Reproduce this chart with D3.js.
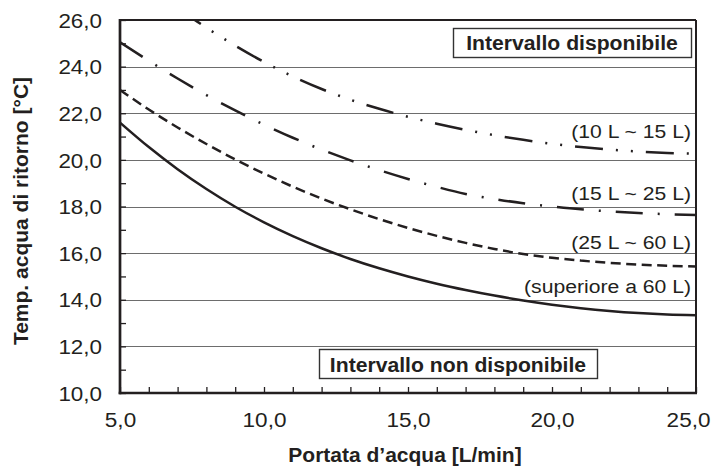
<!DOCTYPE html>
<html>
<head>
<meta charset="utf-8">
<script src="https://cdn.jsdelivr.net/npm/d3@7/dist/d3.min.js"></script>
<style>
  html, body { margin: 0; padding: 0; background: #fff; }
  svg { display: block; font-family: "Liberation Sans", Arial, Helvetica, sans-serif; }
</style>
</head>
<body>
<svg id="chart" width="711" height="467"></svg>
<script>
// ---- data ----
const flowX = [5, 6, 7, 8, 9, 10, 11, 12, 13, 14, 15, 16, 17, 18, 19, 20, 21, 22, 23, 24, 25];
const tempOver60 = [21.6, 20.55, 19.6, 18.75, 17.99, 17.32, 16.73, 16.21, 15.75, 15.35, 15.0, 14.69, 14.42, 14.18, 13.97, 13.79, 13.64, 13.52, 13.43, 13.37, 13.34];
const temp25to60 = [23.0, 22.16, 21.39, 20.68, 20.02, 19.41, 18.85, 18.34, 17.88, 17.46, 17.08, 16.74, 16.44, 16.18, 15.96, 15.8, 15.68, 15.58, 15.51, 15.46, 15.43];
const temp15to25 = [25.05, 24.25, 23.49, 22.78, 22.12, 21.51, 20.95, 20.44, 19.98, 19.56, 19.18, 18.84, 18.54, 18.32, 18.14, 18.0, 17.88, 17.79, 17.72, 17.67, 17.64];
const flowX10to15 = [7, 8, 9, 10, 11, 12, 13, 14, 15, 16, 17, 18, 19, 20, 21, 22, 23, 24, 25];
const temp10to15 = [26.5, 25.67, 24.9, 24.2, 23.58, 23.04, 22.58, 22.19, 21.85, 21.55, 21.29, 21.06, 20.86, 20.69, 20.55, 20.44, 20.36, 20.3, 20.26];
const seriesNames = ["(10 L ~ 15 L)", "(15 L ~ 25 L)", "(25 L ~ 60 L)", "(superiore a 60 L)"];
const xTickValues = [5, 10, 15, 20, 25];
const xTickLabels = ["5,0", "10,0", "15,0", "20,0", "25,0"];
const yTickValues = [10, 12, 14, 16, 18, 20, 22, 24, 26];
const yTickLabels = ["10,0", "12,0", "14,0", "16,0", "18,0", "20,0", "22,0", "24,0", "26,0"];
const boxTop = "Intervallo disponibile";
const boxBottom = "Intervallo non disponibile";
const xTitle = "Portata d\u2019acqua [L/min]";
const yTitle = "Temp. acqua di ritorno [\u00B0C]";

// ---- layout ----
const L = 120, R = 696, T = 20, B = 393;
const svg = d3.select("#chart");
const x = d3.scaleLinear().domain([5, 25]).range([L, R]);
const y = d3.scaleLinear().domain([10, 26]).range([B, T]);
const ink = "#231f20";

function stretch(sel, k) {
  sel.each(function () {
    const w = this.getComputedTextLength();
    if (w > 0) d3.select(this).attr("textLength", w * k).attr("lengthAdjust", "spacingAndGlyphs");
  });
}

// gridlines
svg.append("g").selectAll("line")
  .data(yTickValues.filter(v => v > 10 && v < 26))
  .join("line")
  .attr("x1", L).attr("x2", R)
  .attr("y1", d => Math.round(y(d)) + 0.5).attr("y2", d => Math.round(y(d)) + 0.5)
  .attr("stroke", "#6d6d6d").attr("stroke-width", 1.2);

// curves
svg.append("clipPath").attr("id", "plotclip")
  .append("rect").attr("x", L).attr("y", T).attr("width", R - L).attr("height", B - T);
const line = d3.line().x(d => x(d[0])).y(d => y(d[1])).curve(d3.curveMonotoneX);
const curves = [
  { pts: d3.zip(flowX10to15, temp10to15), dash: "28,13,2,13,2,13" },
  { pts: d3.zip(flowX, temp15to25), dash: "27,15,2,15" },
  { pts: d3.zip(flowX, temp25to60), dash: "10,5.5" },
  { pts: d3.zip(flowX, tempOver60), dash: null }
];
const cg = svg.append("g").attr("clip-path", "url(#plotclip)");
curves.forEach(c => {
  cg.append("path").attr("d", line(c.pts))
    .attr("fill", "none").attr("stroke", ink).attr("stroke-width", 2.5)
    .attr("stroke-dasharray", c.dash);
});

// axes ticks
const xAxis = d3.axisBottom(x).tickValues(d3.range(5, 26, 1)).tickSize(-6)
  .tickFormat(d => { const i = xTickValues.indexOf(d); return i >= 0 ? xTickLabels[i] : ""; });
const gx = svg.append("g").attr("transform", `translate(0,${B})`).call(xAxis);
gx.select(".domain").remove();
gx.selectAll(".tick line").attr("stroke", ink).attr("stroke-width", 1.3);
gx.selectAll(".tick text").attr("y", 33.7).attr("dy", 0)
  .attr("font-size", 20.5).attr("fill", ink).attr("font-family", "Liberation Sans, Arial, sans-serif")
  .call(stretch, 1.1);
// last label sits against the right edge of the picture
gx.selectAll(".tick text").filter(d => d === 25).attr("text-anchor", "end").attr("x", 14);

const yAxis = d3.axisLeft(y).tickValues(d3.range(10, 27, 1)).tickSize(-6).tickPadding(18)
  .tickFormat(d => { const i = yTickValues.indexOf(d); return i >= 0 ? yTickLabels[i] : ""; });
const gy = svg.append("g").attr("transform", `translate(${L},0)`).call(yAxis);
gy.select(".domain").remove();
gy.selectAll(".tick line").attr("stroke", ink).attr("stroke-width", 1.3);
gy.selectAll(".tick text").attr("dy", "0.36em")
  .attr("font-size", 20).attr("fill", ink).attr("font-family", "Liberation Sans, Arial, sans-serif")
  .call(stretch, 1.12);

// frame
svg.append("line").attr("x1", L).attr("x2", R).attr("y1", T).attr("y2", T).attr("stroke", ink).attr("stroke-width", 2);
svg.append("line").attr("x1", R).attr("x2", R).attr("y1", T).attr("y2", B).attr("stroke", ink).attr("stroke-width", 2);
svg.append("line").attr("x1", L).attr("x2", L).attr("y1", T - 1).attr("y2", B + 1.3).attr("stroke", ink).attr("stroke-width", 2.7);
svg.append("line").attr("x1", L - 1.3).attr("x2", R + 1).attr("y1", B).attr("y2", B).attr("stroke", ink).attr("stroke-width", 2.7);

// curve labels
const labelPos = [137.5, 199.5, 248.5, 292.7];
svg.append("g").selectAll("text").data(seriesNames).join("text")
  .attr("x", 691).attr("y", (d, i) => labelPos[i])
  .attr("text-anchor", "end").attr("font-size", 18).attr("fill", ink)
  .text(d => d)
  .call(stretch, 1.175);

// boxes
function box(x0, y0, x1, y1, txt, base) {
  svg.append("rect").attr("x", x0 + 0.5).attr("y", y0 + 0.5).attr("width", x1 - x0).attr("height", y1 - y0)
    .attr("fill", "#fff").attr("stroke", "#333").attr("stroke-width", 1.4);
  svg.append("text").attr("x", (x0 + x1) / 2).attr("y", base).attr("text-anchor", "middle")
    .attr("font-size", 19.5).attr("font-weight", "bold").attr("fill", ink).text(txt)
    .call(stretch, 1.085);
}
box(453, 28, 691, 57, boxTop, 50);
box(319, 349, 597, 378, boxBottom, 371.7);

// axis titles
svg.append("text").attr("x", 405).attr("y", 462).attr("text-anchor", "middle")
  .attr("font-size", 21).attr("font-weight", "bold").attr("fill", ink).text(xTitle);
svg.append("text").attr("transform", "translate(28.3,211) rotate(-90)").attr("text-anchor", "middle")
  .attr("font-size", 21).attr("font-weight", "bold").attr("fill", ink).text(yTitle);
</script>
</body>
</html>
